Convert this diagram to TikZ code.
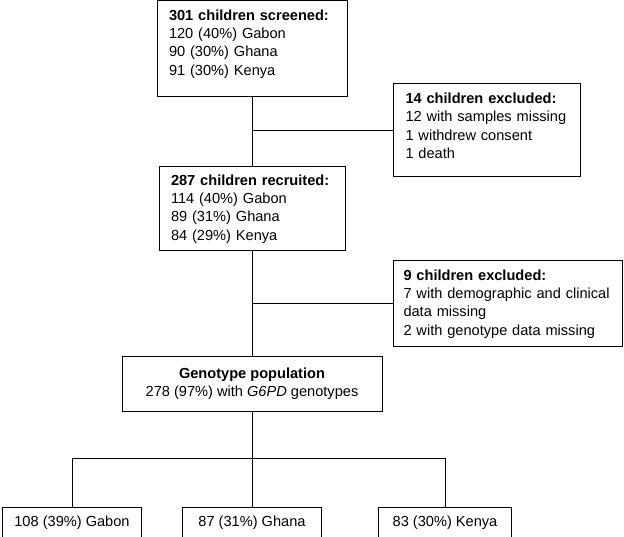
\documentclass[tikz,border=0pt]{standalone}
\usepackage{fontspec}
\setmainfont{Liberation Sans}
\usetikzlibrary{positioning}
\hyphenpenalty=10000
\tikzset{
    stage/.style = {rectangle, draw, align=left, inner xsep=12pt, inner ysep=4pt},
    excluded/.style = {rectangle, draw, align=left, inner xsep=12pt, inner ysep=4pt, anchor=west},
    population/.style = {rectangle, draw, align=center, minimum width=260pt, minimum height=54pt},
    country/.style = {rectangle, draw, align=center, minimum width=139pt, minimum height=31pt}
}

\begin{document}
\begin{tikzpicture}[
    x=1pt, y=1pt,
    line width=1pt,
    font=\fontsize{14.6}{18.3}\selectfont
]
    \useasboundingbox (0,0) rectangle (624,-537);

    % Main column
    \node [stage, text width=166pt, minimum height=96pt] (screened) at (252,-49) {
        \textbf{301 children screened:} \\
        120 (40\%) Gabon \\
        90 (30\%) Ghana \\
        91 (30\%) Kenya \\[-5pt]
        \mbox{}
    };

    \node [stage, text width=162pt, minimum height=84pt, below=69pt of screened] (recruited) {
        \textbf{287 children recruited:} \\
        114 (40\%) Gabon \\
        89 (31\%) Ghana \\
        84 (29\%) Kenya
    };

    \node [population, below=105pt of recruited] (genotype) {
        \textbf{Genotype population} \\
        278 (97\%) with \textit{G6PD} genotypes
    };

    % Exclusions
    \node [excluded, text width=163pt, minimum height=93pt] (excl1) at (393,-130.5) {
        \textbf{14 children excluded:} \\
        12 with samples missing \\
        1 withdrew consent \\
        1 death \\[-9pt]
        \mbox{}
    };

    \node [excluded, inner xsep=10pt, text width=209pt, minimum height=86pt] (excl2) at (393,-304) {
        \textbf{9 children excluded:} \\
        7 with demographic and clinical \\
        data missing \\
        2 with genotype data missing
    };

    % Countries
    \node [country, below=95pt of genotype] (ghana) {87 (31\%) Ghana};
    \node [country, left=40pt of ghana] (gabon) {108 (39\%) Gabon};
    \node [country, minimum width=133pt, right=56pt of ghana] (kenya) {83 (30\%) Kenya};

    % Lines
    \coordinate (join1) at (screened.south |- excl1.west);
    \coordinate (join2) at (recruited.south |- excl2.west);
    \coordinate (split) at ([yshift=-47pt] genotype.south);

    \draw (screened) -- (recruited);
    \draw (join1) -- (excl1);
    \draw (recruited) -- (genotype);
    \draw (join2) -- (excl2);
    \draw (genotype) -- (ghana);
    \draw (gabon.north) |- (split) -| (kenya.north);
\end{tikzpicture}
\end{document}
